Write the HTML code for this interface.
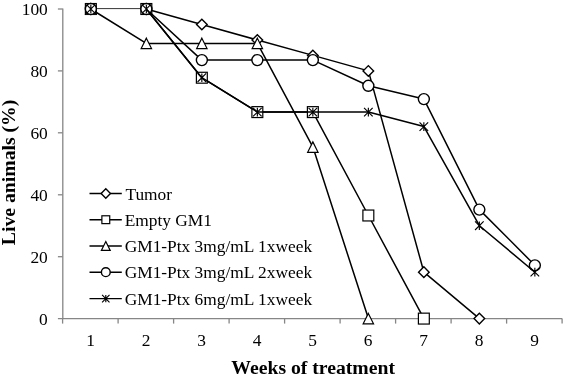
<!DOCTYPE html>
<html><head><meta charset="utf-8"><title>Chart</title>
<style>html,body{margin:0;padding:0;background:#fff}body{width:565px;height:378px;overflow:hidden}</style></head>
<body>
<svg width="565" height="378" viewBox="0 0 565 378" style="display:block">
<rect width="565" height="378" fill="#fff"/>
<g stroke="#868686" stroke-width="1.3" fill="none">
<path d="M62.800000000000004 8.4L62.800000000000004 318.6M57.9 318.6L562.1 318.6"/>
<path d="M57.9 256.7L62.6 256.7"/>
<path d="M57.9 194.8L62.6 194.8"/>
<path d="M57.9 132.8L62.6 132.8"/>
<path d="M57.9 70.9L62.6 70.9"/>
<path d="M57.9 9.0L62.6 9.0"/>
<path d="M62.6 318.6L62.6 323.6"/>
<path d="M118.1 318.6L118.1 323.6"/>
<path d="M173.6 318.6L173.6 323.6"/>
<path d="M229.1 318.6L229.1 323.6"/>
<path d="M284.6 318.6L284.6 323.6"/>
<path d="M340.1 318.6L340.1 323.6"/>
<path d="M395.6 318.6L395.6 323.6"/>
<path d="M451.1 318.6L451.1 323.6"/>
<path d="M506.6 318.6L506.6 323.6"/>
<path d="M562.1 318.6L562.1 323.6"/>
</g>
<g font-family="'Liberation Serif', serif" font-size="17.4" fill="#000">
<text x="47.8" y="325.0" text-anchor="end">0</text>
<text x="47.8" y="263.1" text-anchor="end">20</text>
<text x="47.8" y="201.2" text-anchor="end">40</text>
<text x="47.8" y="139.2" text-anchor="end">60</text>
<text x="47.8" y="77.3" text-anchor="end">80</text>
<text x="47.8" y="15.4" text-anchor="end">100</text>
<text x="90.6" y="346.3" text-anchor="middle">1</text>
<text x="146.2" y="346.3" text-anchor="middle">2</text>
<text x="201.7" y="346.3" text-anchor="middle">3</text>
<text x="257.2" y="346.3" text-anchor="middle">4</text>
<text x="312.7" y="346.3" text-anchor="middle">5</text>
<text x="368.2" y="346.3" text-anchor="middle">6</text>
<text x="423.7" y="346.3" text-anchor="middle">7</text>
<text x="479.2" y="346.3" text-anchor="middle">8</text>
<text x="534.6" y="346.3" text-anchor="middle">9</text>
</g>
<g font-family="'Liberation Serif', serif" font-size="19.7" font-weight="bold" fill="#000">
<text x="313.2" y="374" text-anchor="middle">Weeks of treatment</text>
<text transform="translate(15.2 172.4) rotate(-90)" text-anchor="middle">Live animals (%)</text>
</g>
<path d="M90.8 8.6L146.3 8.6" fill="none" stroke="#000" stroke-width="0.8"/>
<path d="M146.3 9.0L201.8 24.5L257.4 40.0L312.9 55.4L368.4 70.9L423.9 272.2L479.4 318.6" fill="none" stroke="#000" stroke-width="1.5" stroke-linejoin="round"/>
<path d="M85.55 9.00L90.85 3.70L96.15 9.00L90.85 14.30Z" fill="#fff" stroke="#000" stroke-width="1.4"/>
<path d="M141.05 9.00L146.35 3.70L151.65 9.00L146.35 14.30Z" fill="#fff" stroke="#000" stroke-width="1.4"/>
<path d="M196.55 24.48L201.85 19.18L207.15 24.48L201.85 29.78Z" fill="#fff" stroke="#000" stroke-width="1.4"/>
<path d="M252.05 39.96L257.35 34.66L262.65 39.96L257.35 45.26Z" fill="#fff" stroke="#000" stroke-width="1.4"/>
<path d="M307.55 55.44L312.85 50.14L318.15 55.44L312.85 60.74Z" fill="#fff" stroke="#000" stroke-width="1.4"/>
<path d="M363.05 70.92L368.35 65.62L373.65 70.92L368.35 76.22Z" fill="#fff" stroke="#000" stroke-width="1.4"/>
<path d="M418.55 272.16L423.85 266.86L429.15 272.16L423.85 277.46Z" fill="#fff" stroke="#000" stroke-width="1.4"/>
<path d="M474.05 318.60L479.35 313.30L484.65 318.60L479.35 323.90Z" fill="#fff" stroke="#000" stroke-width="1.4"/>
<path d="M146.3 9.0L201.8 77.7L257.4 112.1L312.9 112.1L368.4 215.5L423.9 318.6" fill="none" stroke="#000" stroke-width="1.5" stroke-linejoin="round"/>
<rect x="85.40" y="3.55" width="10.90" height="10.90" fill="#fff" stroke="#000" stroke-width="1.2"/>
<rect x="140.90" y="3.55" width="10.90" height="10.90" fill="#fff" stroke="#000" stroke-width="1.2"/>
<rect x="196.40" y="72.28" width="10.90" height="10.90" fill="#fff" stroke="#000" stroke-width="1.2"/>
<rect x="251.90" y="106.65" width="10.90" height="10.90" fill="#fff" stroke="#000" stroke-width="1.2"/>
<rect x="307.40" y="106.65" width="10.90" height="10.90" fill="#fff" stroke="#000" stroke-width="1.2"/>
<rect x="362.90" y="210.05" width="10.90" height="10.90" fill="#fff" stroke="#000" stroke-width="1.2"/>
<rect x="418.40" y="313.15" width="10.90" height="10.90" fill="#fff" stroke="#000" stroke-width="1.2"/>
<path d="M90.8 9.0L146.3 43.4L201.8 43.4L257.4 43.4L312.9 147.1L368.4 318.6" fill="none" stroke="#000" stroke-width="1.5" stroke-linejoin="round"/>
<path d="M90.85 3.80L96.05 14.20L85.65 14.20Z" fill="#fff" stroke="#000" stroke-width="1.2"/>
<path d="M146.35 38.17L151.55 48.57L141.15 48.57Z" fill="#fff" stroke="#000" stroke-width="1.2"/>
<path d="M201.85 38.17L207.05 48.57L196.65 48.57Z" fill="#fff" stroke="#000" stroke-width="1.2"/>
<path d="M257.35 38.17L262.55 48.57L252.15 48.57Z" fill="#fff" stroke="#000" stroke-width="1.2"/>
<path d="M312.85 141.88L318.05 152.28L307.65 152.28Z" fill="#fff" stroke="#000" stroke-width="1.2"/>
<path d="M368.35 313.40L373.55 323.80L363.15 323.80Z" fill="#fff" stroke="#000" stroke-width="1.2"/>
<path d="M146.3 9.0L201.8 60.1L257.4 60.1L312.9 60.1L368.4 85.8L423.9 99.1L479.4 209.6L534.9 265.3" fill="none" stroke="#000" stroke-width="1.5" stroke-linejoin="round"/>
<circle cx="90.85" cy="9.00" r="5.50" fill="#fff" stroke="#000" stroke-width="1.4"/>
<circle cx="146.35" cy="9.00" r="5.50" fill="#fff" stroke="#000" stroke-width="1.4"/>
<circle cx="201.85" cy="60.08" r="5.50" fill="#fff" stroke="#000" stroke-width="1.4"/>
<circle cx="257.35" cy="60.08" r="5.50" fill="#fff" stroke="#000" stroke-width="1.4"/>
<circle cx="312.85" cy="60.08" r="5.50" fill="#fff" stroke="#000" stroke-width="1.4"/>
<circle cx="368.35" cy="85.78" r="5.50" fill="#fff" stroke="#000" stroke-width="1.4"/>
<circle cx="423.85" cy="99.09" r="5.50" fill="#fff" stroke="#000" stroke-width="1.4"/>
<circle cx="479.35" cy="209.62" r="5.50" fill="#fff" stroke="#000" stroke-width="1.4"/>
<circle cx="534.85" cy="265.35" r="5.50" fill="#fff" stroke="#000" stroke-width="1.4"/>
<path d="M146.3 9.0L201.8 77.7L257.4 112.1L312.9 112.1L368.4 112.1L423.9 126.6L479.4 225.7L534.9 272.2" fill="none" stroke="#000" stroke-width="1.5" stroke-linejoin="round"/>
<path d="M86.55 4.70L95.15 13.30M95.15 4.70L86.55 13.30M90.85 4.70L90.85 13.30" fill="none" stroke="#000" stroke-width="1.15"/>
<path d="M142.05 4.70L150.65 13.30M150.65 4.70L142.05 13.30M146.35 4.70L146.35 13.30" fill="none" stroke="#000" stroke-width="1.15"/>
<path d="M197.55 73.43L206.15 82.03M206.15 73.43L197.55 82.03M201.85 73.43L201.85 82.03" fill="none" stroke="#000" stroke-width="1.15"/>
<path d="M253.05 107.80L261.65 116.40M261.65 107.80L253.05 116.40M257.35 107.80L257.35 116.40" fill="none" stroke="#000" stroke-width="1.15"/>
<path d="M308.55 107.80L317.15 116.40M317.15 107.80L308.55 116.40M312.85 107.80L312.85 116.40" fill="none" stroke="#000" stroke-width="1.15"/>
<path d="M364.05 107.80L372.65 116.40M372.65 107.80L364.05 116.40M368.35 107.80L368.35 116.40" fill="none" stroke="#000" stroke-width="1.15"/>
<path d="M419.55 122.35L428.15 130.95M428.15 122.35L419.55 130.95M423.85 122.35L423.85 130.95" fill="none" stroke="#000" stroke-width="1.15"/>
<path d="M475.05 221.42L483.65 230.02M483.65 221.42L475.05 230.02M479.35 221.42L479.35 230.02" fill="none" stroke="#000" stroke-width="1.15"/>
<path d="M530.55 267.86L539.15 276.46M539.15 267.86L530.55 276.46M534.85 267.86L534.85 276.46" fill="none" stroke="#000" stroke-width="1.15"/>
<g font-family="'Liberation Serif', serif" font-size="17.36" fill="#000">
<path d="M89.5 193.5L121.8 193.5" stroke="#000" stroke-width="1.4"/>
<path d="M101.14 193.50L105.80 188.84L110.46 193.50L105.80 198.16Z" fill="#fff" stroke="#000" stroke-width="1.4"/>
<text x="125.4" y="199.5">Tumor</text>
<path d="M89.5 219.7L121.8 219.7" stroke="#000" stroke-width="1.4"/>
<rect x="101.88" y="215.78" width="7.85" height="7.85" fill="#fff" stroke="#000" stroke-width="1.2"/>
<text x="124.7" y="225.7">Empty GM1</text>
<path d="M89.5 246.0L121.8 246.0" stroke="#000" stroke-width="1.4"/>
<path d="M105.80 241.58L110.22 250.42L101.38 250.42Z" fill="#fff" stroke="#000" stroke-width="1.2"/>
<text x="124.7" y="252.0">GM1-Ptx 3mg/mL 1xweek</text>
<path d="M89.5 272.2L121.8 272.2" stroke="#000" stroke-width="1.4"/>
<circle cx="105.80" cy="272.20" r="4.40" fill="#fff" stroke="#000" stroke-width="1.4"/>
<text x="124.7" y="278.2">GM1-Ptx 3mg/mL 2xweek</text>
<path d="M89.5 298.6L121.8 298.6" stroke="#000" stroke-width="1.4"/>
<path d="M102.10 294.90L109.50 302.30M109.50 294.90L102.10 302.30M105.80 294.90L105.80 302.30" fill="none" stroke="#000" stroke-width="1.15"/>
<text x="124.7" y="304.6">GM1-Ptx 6mg/mL 1xweek</text>
</g>
</svg>
</body></html>
